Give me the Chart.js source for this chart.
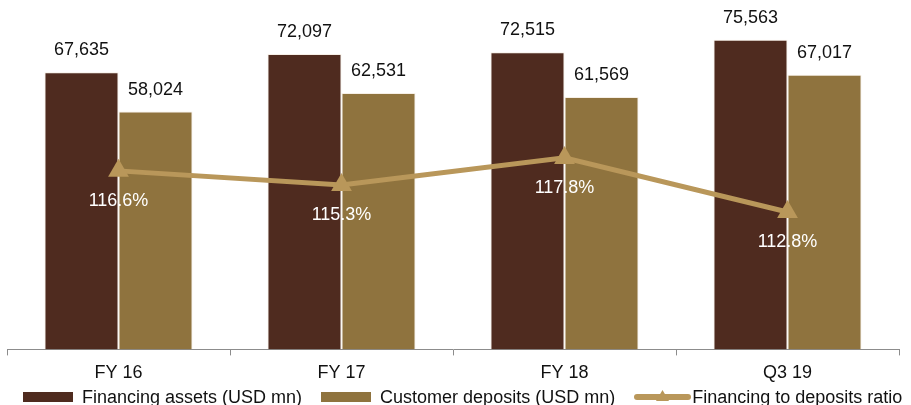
<!DOCTYPE html>
<html>
<head>
<meta charset="utf-8">
<script src="https://cdn.jsdelivr.net/npm/chart.js@4.4.1/dist/chart.umd.min.js"></script>
<style>
  html, body { margin: 0; padding: 0; background: #fff; overflow: hidden; }
  #wrap { width: 911px; height: 405px; position: relative; font-family: 'Liberation Sans', Arial, Helvetica, sans-serif; }
  #plot { position: absolute; left: 0; top: 0; width: 911px; height: 390px; }
  #legend { position: absolute; left: 23px; top: 386px; height: 22px; display: flex; align-items: center;
            white-space: nowrap; font-size: 18px; color: #111; line-height: 22px; }
  #legend .item { display: flex; align-items: center; margin-right: 19px; }
  #legend .swatch { width: 50px; height: 10px; margin-right: 9px; position: relative; }
  #legend canvas { display: block; margin-right: 1px; }
</style>
</head>
<body>
<div id="wrap">
  <div id="plot"><canvas id="fundingChart"></canvas></div>
  <div id="legend"></div>
</div>
<script>
const periods = ["FY 16", "FY 17", "FY 18", "Q3 19"];
const financingAssets = [67635, 72097, 72515, 75563];
const customerDeposits = [58024, 62531, 61569, 67017];
const financingToDeposits = [116.6, 115.3, 117.8, 112.8];

const DARK = "#4f2b1f";
const OLIVE = "#8f733e";
const GOLD = "#b9975a";
const FONT = "'Liberation Sans', Arial, Helvetica, sans-serif";

Chart.defaults.font.family = FONT;
Chart.defaults.font.size = 18;
Chart.defaults.color = "#111";

/* value labels above bars, ratio labels under the line points */
const valueLabels = {
  id: "valueLabels",
  afterDatasetsDraw(chart) {
    const ctx = chart.ctx;
    ctx.save();
    ctx.font = "18px " + FONT;
    ctx.textAlign = "center";
    ctx.textBaseline = "middle";
    chart.data.datasets.forEach((ds, i) => {
      const meta = chart.getDatasetMeta(i);
      meta.data.forEach((el, j) => {
        const v = ds.data[j];
        if (meta.type === "bar") {
          ctx.fillStyle = "#111";
          ctx.fillText(v.toLocaleString("en-US"), el.x, el.y - 22);
        } else {
          ctx.fillStyle = "#fff";
          ctx.fillText(v.toFixed(1) + "%", el.x, el.y + 30);
        }
      });
    });
    ctx.restore();
  }
};

const chart = new Chart(document.getElementById("fundingChart"), {
  data: {
    labels: periods,
    datasets: [
      {
        type: "bar",
        label: "Financing assets (USD mn)",
        data: financingAssets,
        backgroundColor: DARK,
        borderColor: "rgba(235,220,200,0.45)",
        borderWidth: 1,
        borderSkipped: "bottom",
        yAxisID: "y",
        order: 1
      },
      {
        type: "bar",
        label: "Customer deposits (USD mn)",
        data: customerDeposits,
        backgroundColor: OLIVE,
        borderColor: "rgba(235,220,200,0.45)",
        borderWidth: 1,
        borderSkipped: "bottom",
        yAxisID: "y",
        order: 1
      },
      {
        type: "line",
        label: "Financing to deposits ratio",
        data: financingToDeposits,
        borderColor: GOLD,
        backgroundColor: GOLD,
        borderWidth: 5,
        tension: 0,
        pointStyle: "triangle",
        pointRadius: 12,
        pointBorderWidth: 0,
        pointBackgroundColor: GOLD,
        yAxisID: "y2",
        order: 0
      }
    ]
  },
  options: {
    responsive: true,
    maintainAspectRatio: false,
    animation: false,
    layout: { autoPadding: false, padding: { top: 1, left: 0, right: 0, bottom: 0 } },
    datasets: {
      bar: { categoryPercentage: 0.664, barPercentage: 1 }
    },
    scales: {
      x: {
        grid: {
          display: true,
          drawOnChartArea: false,
          drawTicks: true,
          tickLength: 6,
          offset: true,
          color: "#8c8c8c"
        },
        border: { display: true, color: "#8c8c8c", width: 1 },
        ticks: { color: "#111", padding: 6.5, font: { size: 18 } }
      },
      y: {
        position: "left",
        min: 0,
        max: 85000,
        grid: { display: false },
        border: { display: false },
        ticks: { display: false },
        afterFit(scale) { scale.width = 7; }
      },
      y2: {
        position: "right",
        min: 100.1,
        max: 132.3,
        grid: { display: false },
        border: { display: false },
        ticks: { display: false },
        afterFit(scale) { scale.width = 12; }
      }
    },
    plugins: {
      tooltip: { enabled: false },
      legend: { display: false }
    }
  },
  plugins: [valueLabels]
});

/* legend built from the chart's own datasets */
const legendEl = document.getElementById("legend");
chart.data.datasets.forEach(ds => {
  const item = document.createElement("div");
  item.className = "item";
  if (ds.type === "line") {
    const c = document.createElement("canvas");
    c.width = 57; c.height = 14;
    const g = c.getContext("2d");
    g.strokeStyle = ds.borderColor; g.fillStyle = ds.borderColor;
    g.lineWidth = 6; g.lineCap = "round";
    g.beginPath(); g.moveTo(3, 7); g.lineTo(54, 7); g.stroke();
    g.beginPath(); g.moveTo(28.5, 0); g.lineTo(35, 11); g.lineTo(22, 11); g.closePath(); g.fill();
    item.appendChild(c);
  } else {
    const sw = document.createElement("span");
    sw.className = "swatch";
    sw.style.background = ds.backgroundColor;
    item.appendChild(sw);
  }
  const txt = document.createElement("span");
  txt.textContent = ds.label;
  item.appendChild(txt);
  legendEl.appendChild(item);
});
</script>
</body>
</html>
